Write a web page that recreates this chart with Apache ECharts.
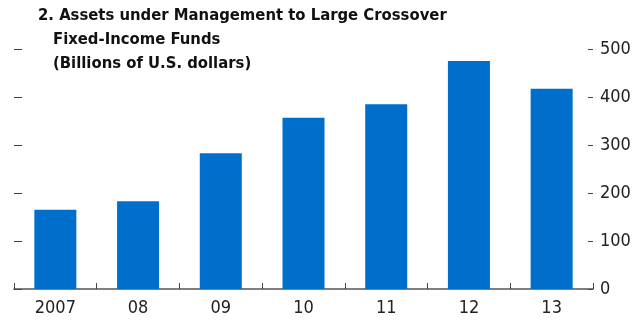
<!DOCTYPE html>
<html><head><meta charset="utf-8">
<script src="https://cdn.jsdelivr.net/npm/echarts@6/dist/echarts.min.js"></script>
<style>html,body{margin:0;padding:0;background:#fff}#c{width:644px;height:326px}</style>
</head><body><div id="c"></div>
<script>
var categories = ['2007','08','09','10','11','12','13'];
var values = [165, 183, 283, 357, 385, 475, 417];
var yTicks = [0, 100, 200, 300, 400, 500];
var titleLine1 = '2. Assets under Management to Large Crossover';
var titleLine2 = 'Fixed-Income Funds\n(Billions of U.S. dollars)';

var FONT = '"Liberation Sans Narrow", "DejaVu Sans Condensed", Arial, sans-serif';
var chart = echarts.init(document.getElementById('c'), null, {renderer:'canvas'});
chart.setOption({
  animation:false,
  title:[
    {text:titleLine1, left:38, top:7, padding:0, textStyle:{fontFamily:FONT, fontWeight:'bold', fontSize:16.5, color:'#111'}},
    {text:titleLine2, left:53, top:28, padding:0, textStyle:{fontFamily:FONT, fontWeight:'bold', fontSize:16.5, color:'#111', lineHeight:23.5}}
  ],
  grid:{left:14, right:51, top:49, bottom:37, containLabel:false},
  xAxis:{type:'category', data:categories,
    axisLine:{lineStyle:{color:'#555', width:1.5}},
    axisTick:{show:true, inside:true, length:6, alignWithLabel:false, lineStyle:{color:'#444'}},
    axisLabel:{fontFamily:FONT, fontSize:18, color:'#222', margin:10}
  },
  yAxis:[
    {type:'value', min:yTicks[0], max:yTicks[yTicks.length-1], interval:100, position:'right',
      axisLine:{show:false}, splitLine:{show:false},
      axisTick:{show:true, inside:true, length:5, lineStyle:{color:'#444'}},
      axisLabel:{fontFamily:FONT, fontSize:18, color:'#222', margin:7}
    },
    {type:'value', min:yTicks[0], max:yTicks[yTicks.length-1], interval:100, position:'left',
      axisLine:{show:false}, splitLine:{show:false},
      axisTick:{show:true, inside:true, length:8, lineStyle:{color:'#444'}},
      axisLabel:{show:false}
    }
  ],
  series:[{type:'bar', data:values, barWidth:42, itemStyle:{color:'#006FCB'}}]
});
</script></body></html>
